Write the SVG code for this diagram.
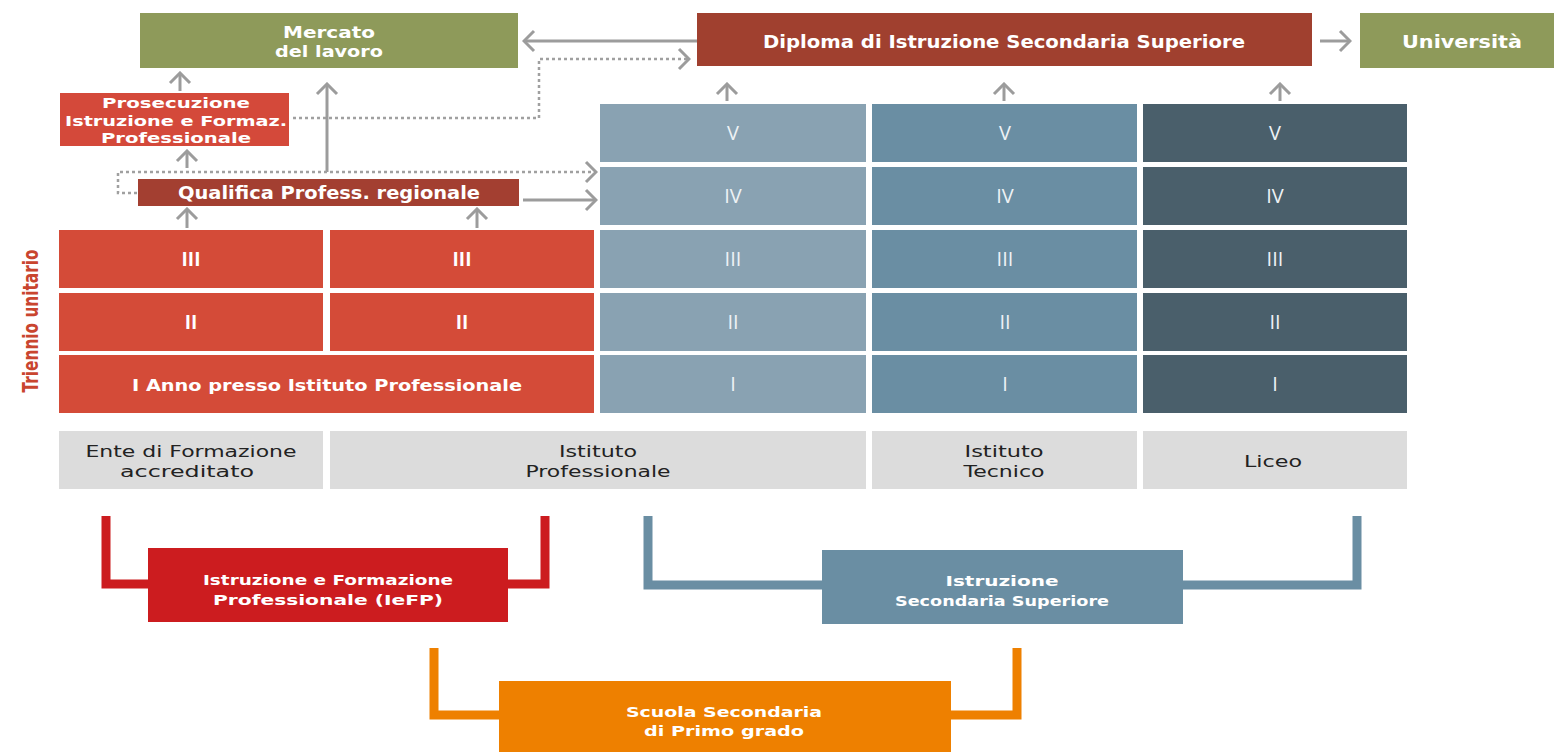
<svg xmlns="http://www.w3.org/2000/svg" width="1554" height="752" viewBox="0 0 1554 752">
<style>
  .w { font-family: "DejaVu Sans", "Open Sans", sans-serif; font-weight: bold; fill: #ffffff; text-anchor: middle; }
  .rn { font-family: "Open Sans", "Liberation Sans", sans-serif; font-weight: normal; fill: #eef2f5; text-anchor: middle; font-size: 20px; }
  .rr { font-family: "Open Sans", "Liberation Sans", sans-serif; font-weight: bold; fill: #ffffff; text-anchor: middle; font-size: 19px; }
  .g { font-family: "DejaVu Sans", "Open Sans", sans-serif; font-weight: normal; fill: #222222; text-anchor: middle; font-size: 15px; }
  .arr { fill: none; stroke: #9c9c9c; stroke-width: 3; marker-end: url(#ah); }
  .dota { fill: none; stroke: #a0a0a0; stroke-width: 2.5; stroke-dasharray: 3 3; marker-end: url(#ah2); }
  .olive { fill: #8e9a5a; }
  .dip { fill: #a0402f; }
  .red { fill: #d44b38; }
  .c1 { fill: #89a2b2; }
  .c2 { fill: #6a8ea3; }
  .c3 { fill: #4a5f6b; }
  .lab { fill: #dcdcdc; }
</style>
<defs>
  <marker id="ah" markerUnits="userSpaceOnUse" markerWidth="16" markerHeight="26" viewBox="-14 -13 16 26" refX="0" refY="0" orient="auto">
    <path d="M-10,-10 L0,0 L-10,10" fill="none" stroke="#9c9c9c" stroke-width="3"/>
  </marker>
  <marker id="ah2" markerUnits="userSpaceOnUse" markerWidth="16" markerHeight="26" viewBox="-14 -13 16 26" refX="0" refY="0" orient="auto">
    <path d="M-10,-10 L0,0 L-10,10" fill="none" stroke="#9c9c9c" stroke-width="3"/>
  </marker>
</defs>
<rect width="1554" height="752" fill="#ffffff"/>

<g id="connectors">
  <line class="arr" x1="697" y1="41" x2="524" y2="41"/>
  <path class="dota" d="M293,118 H539 V59 H689"/>
  <line class="arr" x1="1320" y1="41" x2="1350" y2="41"/>
  <line class="arr" x1="727" y1="101" x2="727" y2="84"/>
  <line class="arr" x1="1004" y1="101" x2="1004" y2="84"/>
  <line class="arr" x1="1280" y1="101" x2="1280" y2="84"/>
  <line class="arr" x1="180" y1="91" x2="180" y2="73"/>
  <line class="arr" x1="187" y1="168" x2="187" y2="151"/>
  <line class="arr" x1="187" y1="228" x2="187" y2="209"/>
  <line class="arr" x1="477" y1="228" x2="477" y2="209"/>
  <line class="arr" x1="327" y1="172" x2="327" y2="84"/>
  <path class="dota" d="M137,193 H118 V172 H596"/>
  <line class="arr" x1="523" y1="200" x2="596" y2="200"/>
</g>

<g id="mercato">
  <rect class="olive" x="140" y="13" width="378" height="55"/>
  <text class="w" x="329" y="38" font-size="16" textLength="92" lengthAdjust="spacingAndGlyphs">Mercato</text>
  <text class="w" x="329" y="57" font-size="16" textLength="108" lengthAdjust="spacingAndGlyphs">del lavoro</text>
</g>
<g id="diploma">
  <rect class="dip" x="697" y="13" width="615" height="53"/>
  <text class="w" x="1004" y="47.5" font-size="17" textLength="482" lengthAdjust="spacingAndGlyphs">Diploma di Istruzione Secondaria Superiore</text>
</g>
<g id="universita">
  <rect class="olive" x="1360" y="13" width="194" height="55"/>
  <text class="w" x="1462" y="47.5" font-size="17" textLength="120" lengthAdjust="spacingAndGlyphs">Università</text>
</g>
<g id="prosecuzione">
  <rect x="60" y="93" width="229" height="53" fill="#d4493a"/>
  <text class="w" x="176" y="108" font-size="14.5" textLength="148" lengthAdjust="spacingAndGlyphs">Prosecuzione</text>
  <text class="w" x="176" y="125.5" font-size="14.5" textLength="222" lengthAdjust="spacingAndGlyphs">Istruzione e Formaz.</text>
  <text class="w" x="176" y="143" font-size="14.5" textLength="150" lengthAdjust="spacingAndGlyphs">Professionale</text>
</g>
<g id="qualifica">
  <rect x="138" y="179" width="381" height="27" fill="#a33f31"/>
  <text class="w" x="329" y="199" font-size="17" textLength="302" lengthAdjust="spacingAndGlyphs">Qualifica Profess. regionale</text>
</g>

<g id="triennio">
  <text x="0" y="0" transform="translate(38,321) rotate(-90)" font-family="'DejaVu Sans', 'Open Sans', sans-serif" font-weight="bold" font-size="21" fill="#c9452f" text-anchor="middle" textLength="143" lengthAdjust="spacingAndGlyphs">Triennio unitario</text>
</g>

<g id="ente-iii"><rect class="red" x="59" y="230" width="264" height="58"/><text class="rr" x="191" y="266">III</text></g>
<g id="prof-iii"><rect class="red" x="330" y="230" width="264" height="58"/><text class="rr" x="462" y="266">III</text></g>
<g id="ente-ii"><rect class="red" x="59" y="293" width="264" height="58"/><text class="rr" x="191" y="329">II</text></g>
<g id="prof-ii"><rect class="red" x="330" y="293" width="264" height="58"/><text class="rr" x="462" y="329">II</text></g>
<g id="i-anno"><rect class="red" x="59" y="355" width="535" height="58"/><text class="w" x="327" y="391" font-size="16" textLength="390" lengthAdjust="spacingAndGlyphs">I Anno presso Istituto Professionale</text></g>

<g id="ip-v"><rect class="c1" x="600" y="104" width="266" height="58"/><text class="rn" x="733" y="140">V</text></g>
<g id="ip-iv"><rect class="c1" x="600" y="167" width="266" height="58"/><text class="rn" x="733" y="203">IV</text></g>
<g id="ip-iii"><rect class="c1" x="600" y="230" width="266" height="58"/><text class="rn" x="733" y="266">III</text></g>
<g id="ip-ii"><rect class="c1" x="600" y="293" width="266" height="58"/><text class="rn" x="733" y="329">II</text></g>
<g id="ip-i"><rect class="c1" x="600" y="355" width="266" height="58"/><text class="rn" x="733" y="391">I</text></g>

<g id="it-v"><rect class="c2" x="872" y="104" width="265" height="58"/><text class="rn" x="1005" y="140">V</text></g>
<g id="it-iv"><rect class="c2" x="872" y="167" width="265" height="58"/><text class="rn" x="1005" y="203">IV</text></g>
<g id="it-iii"><rect class="c2" x="872" y="230" width="265" height="58"/><text class="rn" x="1005" y="266">III</text></g>
<g id="it-ii"><rect class="c2" x="872" y="293" width="265" height="58"/><text class="rn" x="1005" y="329">II</text></g>
<g id="it-i"><rect class="c2" x="872" y="355" width="265" height="58"/><text class="rn" x="1005" y="391">I</text></g>

<g id="li-v"><rect class="c3" x="1143" y="104" width="264" height="58"/><text class="rn" x="1275" y="140">V</text></g>
<g id="li-iv"><rect class="c3" x="1143" y="167" width="264" height="58"/><text class="rn" x="1275" y="203">IV</text></g>
<g id="li-iii"><rect class="c3" x="1143" y="230" width="264" height="58"/><text class="rn" x="1275" y="266">III</text></g>
<g id="li-ii"><rect class="c3" x="1143" y="293" width="264" height="58"/><text class="rn" x="1275" y="329">II</text></g>
<g id="li-i"><rect class="c3" x="1143" y="355" width="264" height="58"/><text class="rn" x="1275" y="391">I</text></g>

<g id="lab-ente">
  <rect class="lab" x="59" y="431" width="264" height="58"/>
  <text class="g" x="191" y="457" textLength="211" lengthAdjust="spacingAndGlyphs">Ente di Formazione</text>
  <text class="g" x="187" y="477" textLength="134" lengthAdjust="spacingAndGlyphs">accreditato</text>
</g>
<g id="lab-ip">
  <rect class="lab" x="330" y="431" width="536" height="58"/>
  <text class="g" x="598" y="457" textLength="78" lengthAdjust="spacingAndGlyphs">Istituto</text>
  <text class="g" x="598" y="477" textLength="145" lengthAdjust="spacingAndGlyphs">Professionale</text>
</g>
<g id="lab-it">
  <rect class="lab" x="872" y="431" width="265" height="58"/>
  <text class="g" x="1004" y="457" textLength="79" lengthAdjust="spacingAndGlyphs" font-weight="bold">Istituto</text>
  <text class="g" x="1004" y="477" textLength="81" lengthAdjust="spacingAndGlyphs">Tecnico</text>
</g>
<g id="lab-liceo">
  <rect class="lab" x="1143" y="431" width="264" height="58"/>
  <text class="g" x="1273" y="467" textLength="58" lengthAdjust="spacingAndGlyphs">Liceo</text>
</g>

<g id="iefp">
  <path d="M106,516 V584 H148 M508,584 H545 V516" fill="none" stroke="#cc1c1f" stroke-width="9"/>
  <rect x="148" y="548" width="360" height="74" fill="#cc1c1f"/>
  <text class="w" x="328" y="585" font-size="14.5" textLength="250" lengthAdjust="spacingAndGlyphs">Istruzione e Formazione</text>
  <text class="w" x="328" y="605" font-size="14.5" textLength="230" lengthAdjust="spacingAndGlyphs">Professionale (IeFP)</text>
</g>
<g id="secondaria-superiore">
  <path d="M648,516 V585 H822 M1183,585 H1357 V516" fill="none" stroke="#6a8ea3" stroke-width="9"/>
  <rect x="822" y="550" width="361" height="74" fill="#6a8ea3"/>
  <text class="w" x="1002" y="586" font-size="14.5" textLength="113" lengthAdjust="spacingAndGlyphs">Istruzione</text>
  <text class="w" x="1002" y="606" font-size="14.5" textLength="214" lengthAdjust="spacingAndGlyphs">Secondaria Superiore</text>
</g>
<g id="primo-grado">
  <path d="M434,648 V715 H499 M951,715 H1017 V648" fill="none" stroke="#ee8000" stroke-width="9"/>
  <rect x="499" y="681" width="452" height="71" fill="#ee8000"/>
  <text class="w" x="724" y="717" font-size="14.5" textLength="196" lengthAdjust="spacingAndGlyphs">Scuola Secondaria</text>
  <text class="w" x="724" y="736" font-size="14.5" textLength="160" lengthAdjust="spacingAndGlyphs">di Primo grado</text>
</g>
</svg>
